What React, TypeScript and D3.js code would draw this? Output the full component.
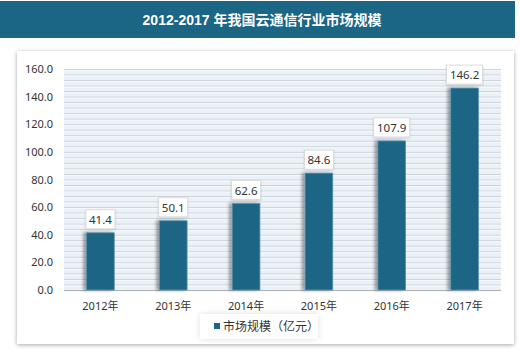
import React from "react";
import * as d3 from "d3";

const categories = ["2012年", "2013年", "2014年", "2015年", "2016年", "2017年"];
const values = [41.4, 50.1, 62.6, 84.6, 107.9, 146.2];
const yTicks = [0, 20, 40, 60, 80, 100, 120, 140, 160];
const title = "2012-2017 年我国云通信行业市场规模";
const seriesName = "市场规模（亿元）";

const W = 520, H = 357;
const plot = { left: 64, right: 501, top: 69, bottom: 290 };
const barColor = "#1b6585";
const font = "'Noto Sans', 'Noto Sans CJK SC', sans-serif";

export default function App() {
  const x = d3.scaleBand().domain(categories).range([plot.left, plot.right]).paddingInner(0.62).paddingOuter(0.31);
  const y = d3.scaleLinear().domain([0, 160]).range([plot.bottom, plot.top]);
  const minor = d3.range(0, 161, 4);
  return (
    <svg width={W} height={H} style={{ position: "absolute", left: 0, top: 0, background: "#fff" }}>
      <defs>
        <filter id="sh" x="-5%" y="-5%" width="110%" height="110%">
          <feDropShadow dx="0" dy="1" stdDeviation="2" floodColor="#000" floodOpacity="0.35" />
        </filter>
        <filter id="sh2" x="-20%" y="-20%" width="140%" height="140%">
          <feDropShadow dx="0" dy="0" stdDeviation="3" floodColor="#000" floodOpacity="0.12" />
        </filter>
        <filter id="bsh" x="-50%" y="-10%" width="200%" height="120%">
          <feDropShadow dx="-3" dy="0" stdDeviation="1.5" floodColor="#000" floodOpacity="0.35" />
        </filter>
        <filter id="lsh" x="-20%" y="-20%" width="140%" height="140%">
          <feDropShadow dx="0" dy="1" stdDeviation="1" floodColor="#000" floodOpacity="0.15" />
        </filter>
      </defs>
      {/* title band */}
      <rect x={0} y={1} width={515} height={37} fill="#1b6585" />
      <text x={262} y={25} textAnchor="middle" fill="#fff" fontWeight="bold" fontSize={14} fontFamily="'Liberation Sans', 'Noto Sans CJK SC', sans-serif">{title}</text>
      {/* frame */}
      <rect x={17} y={51} width={497} height={293} fill="#fff" filter="url(#sh)" />
      {/* plot background */}
      <rect x={plot.left} y={plot.top} width={plot.right - plot.left} height={plot.bottom - plot.top} fill="#eaf1f8" />
      {minor.map((v) => (
        <g key={v}>
          <line x1={plot.left} x2={plot.right} y1={y(v) + 0.5} y2={y(v) + 0.5} stroke="#cdd1d6" strokeWidth={1} />
          <line x1={plot.left} x2={plot.right} y1={y(v) + 1.5} y2={y(v) + 1.5} stroke="#f7f9fb" strokeWidth={1} />
        </g>
      ))}
      {/* axis line */}
      <line x1={plot.left} x2={plot.right} y1={plot.bottom + 0.5} y2={plot.bottom + 0.5} stroke="#b0b0b0" />
      {/* y tick labels */}
      {yTicks.map((t) => (
        <text key={t} x={53} y={y(t) + 4} textAnchor="end" fontSize={11} fill="#333" fontFamily={font}>{t.toFixed(1)}</text>
      ))}
      {/* bars */}
      {values.map((v, i) => {
        const bx = x(categories[i])!;
        const bw = x.bandwidth();
        const top = y(v);
        const cx = bx + bw / 2;
        const label = v.toFixed(1);
        const lw = label.length * 7 + 1;
        return (
          <g key={i}>
            <rect x={bx} y={top} width={bw} height={plot.bottom - top} fill={barColor} stroke="#5b93ad" strokeWidth={0.8} filter="url(#bsh)" />
            <rect x={cx - lw / 2} y={top - 23} width={lw} height={19} fill="#fff" stroke="#d6d6d6" strokeWidth={0.8} filter="url(#lsh)" />
            <text x={cx} y={top - 9} textAnchor="middle" fontSize={11.5} fill="#333" fontFamily={font}>{label}</text>
            <text x={cx} y={310} textAnchor="middle" fontSize={11} fill="#333" fontFamily={font}>{categories[i]}</text>
          </g>
        );
      })}
      {/* legend */}
      <rect x={200} y={314} width={118} height={25} fill="#fff" filter="url(#sh2)" />
      <rect x={214} y={323} width={6} height={6} fill={barColor} />
      <text x={223} y={331} fontSize={12} fill="#333" fontFamily={font}>{seriesName}</text>
    </svg>
  );
}
